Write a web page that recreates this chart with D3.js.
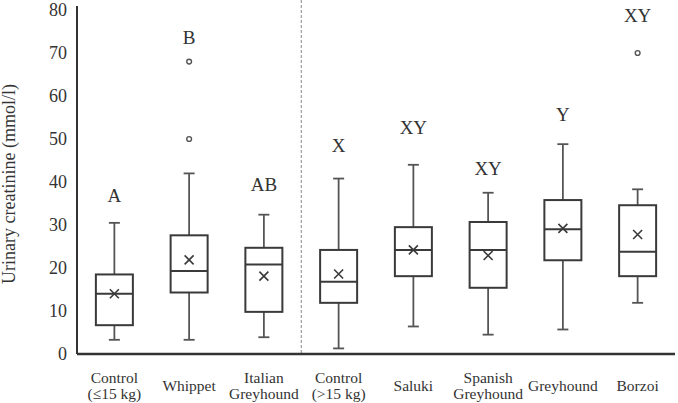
<!DOCTYPE html>
<html>
<head>
<meta charset="utf-8">
<script src="https://cdn.jsdelivr.net/npm/d3@7"></script>
<style>
  body { margin: 0; background: #fff; }
</style>
</head>
<body>
<div id="chart"></div>
<script>
// groups, left of the dashed line are small dogs, right are large dogs
const categories = ["c15", "whippet", "italian", "c15plus", "saluki", "spanish", "greyhound", "borzoi"];
const catLabels = [["Control", "(≤15 kg)"], ["Whippet"], ["Italian", "Greyhound"], ["Control", "(>15 kg)"],
    ["Saluki"], ["Spanish", "Greyhound"], ["Greyhound"], ["Borzoi"]];

// box statistics (mmol/l)
const whiskerLow = [3.3, 3.3, 3.9, 1.3, 6.4, 4.5, 5.7, 11.9];
const q1 = [6.7, 14.3, 9.8, 11.9, 18.1, 15.4, 21.8, 18.1];
const median = [14.0, 19.3, 20.8, 16.8, 24.2, 24.2, 29.0, 23.8];
const q3 = [18.5, 27.6, 24.7, 24.2, 29.5, 30.7, 35.8, 34.6];
const whiskerHigh = [30.5, 42.0, 32.4, 40.8, 44.0, 37.5, 48.8, 38.3];
const mean = [14.0, 21.9, 18.1, 18.6, 24.2, 22.9, 29.2, 27.8];
const outliers = [[], [50.0, 68.0], [], [], [], [], [], [70.0]];

// significance letters and the level where they sit
const letters = ["A", "B", "AB", "X", "XY", "XY", "Y", "XY"];
const letterPos = [35.3, 72.1, 38.0, 46.9, 51.1, 41.6, 54.3, 77.3];

const yTicks = [0, 10, 20, 30, 40, 50, 60, 70, 80];

const serif = '"Liberation Serif", "DejaVu Serif", serif';
const ink = '#333';

const width = 678, height = 403;
const margin = { top: 10, right: 3, bottom: 49, left: 77 };

const svg = d3.select('#chart').append('svg')
    .attr('width', width)
    .attr('height', height);

const x = d3.scaleBand()
    .domain(categories)
    .range([margin.left, width - margin.right])
    .paddingInner(0.5)
    .paddingOuter(0.25);

const y = d3.scaleLinear()
    .domain([0, 80])
    .range([height - margin.bottom, margin.top]);

const boxW = 37;
const capW = 11;
const cx = i => x(categories[i]) + x.bandwidth() / 2;

// dashed separator between the two weight groups
const sepX = x(categories[3]) - x.step() * x.paddingInner() / 2;
svg.append('line')
    .attr('x1', sepX).attr('x2', sepX)
    .attr('y1', 0).attr('y2', y(0))
    .attr('stroke', '#888')
    .attr('stroke-width', 1)
    .attr('stroke-dasharray', '3,2');

// y axis
const yAxis = d3.axisLeft(y).tickValues(yTicks).tickSize(0).tickPadding(10);
const gy = svg.append('g')
    .attr('transform', `translate(${margin.left},0)`)
    .call(yAxis)
    .attr('font-family', serif)
    .attr('font-size', 18);
gy.select('.domain').remove();
gy.selectAll('text')
    .style('font-family', serif)
    .style('font-size', '18px')
    .attr('fill', ink);
svg.append('line')
    .attr('x1', margin.left).attr('x2', margin.left)
    .attr('y1', 6).attr('y2', y(0))
    .attr('stroke', ink).attr('stroke-width', 2);

svg.append('text')
    .attr('transform', `translate(15,${(6 + y(0)) / 2 + 4}) rotate(-90)`)
    .attr('text-anchor', 'middle')
    .style('font-family', serif)
    .style('font-size', '18px')
    .attr('fill', ink)
    .text('Urinary creatinine (mmol/l)');

// boxes
const g = svg.append('g');
categories.forEach((c, i) => {
    const xc = cx(i);
    // whiskers
    g.append('line')
        .attr('x1', xc).attr('x2', xc)
        .attr('y1', y(whiskerHigh[i])).attr('y2', y(q3[i]))
        .attr('stroke', '#555').attr('stroke-width', 1.8);
    g.append('line')
        .attr('x1', xc).attr('x2', xc)
        .attr('y1', y(q1[i])).attr('y2', y(whiskerLow[i]))
        .attr('stroke', '#555').attr('stroke-width', 1.8);
    [whiskerHigh[i], whiskerLow[i]].forEach(v => {
        g.append('line')
            .attr('x1', xc - capW / 2).attr('x2', xc + capW / 2)
            .attr('y1', y(v)).attr('y2', y(v))
            .attr('stroke', '#555').attr('stroke-width', 1.8);
    });
    g.append('rect')
        .attr('x', xc - boxW / 2)
        .attr('y', y(q3[i]))
        .attr('width', boxW)
        .attr('height', y(q1[i]) - y(q3[i]))
        .attr('fill', 'none')
        .attr('stroke', '#3a3a3a')
        .attr('stroke-width', 2);
    g.append('line')
        .attr('x1', xc - boxW / 2).attr('x2', xc + boxW / 2)
        .attr('y1', y(median[i])).attr('y2', y(median[i]))
        .attr('stroke', '#3a3a3a').attr('stroke-width', 2);
    // mean as a cross
    const my = y(mean[i]), s = 4.5;
    g.append('path')
        .attr('d', `M${xc - s},${my - s}L${xc + s},${my + s}M${xc - s},${my + s}L${xc + s},${my - s}`)
        .attr('stroke', '#3a3a3a').attr('stroke-width', 1.6);
    outliers[i].forEach(v => {
        g.append('circle')
            .attr('cx', xc).attr('cy', y(v))
            .attr('r', 2.4)
            .attr('fill', 'none')
            .attr('stroke', '#555').attr('stroke-width', 1.4);
    });
    g.append('text')
        .attr('x', xc).attr('y', y(letterPos[i]))
        .attr('text-anchor', 'middle')
        .style('font-family', serif)
        .style('font-size', '19px')
        .attr('fill', ink)
        .text(letters[i]);
});

// x axis line
svg.append('line')
    .attr('x1', margin.left).attr('x2', width - margin.right)
    .attr('y1', y(0)).attr('y2', y(0))
    .attr('stroke', ink).attr('stroke-width', 2.5);

// category labels
categories.forEach((c, i) => {
    const lines = catLabels[i];
    const t = svg.append('text')
        .attr('text-anchor', 'middle')
        .style('font-family', serif)
        .style('font-size', '15.5px')
        .attr('fill', ink);
    lines.forEach((l, k) => {
        const base = lines.length === 1 ? 391 : 383 + k * 16;
        t.append('tspan').attr('x', cx(i)).attr('y', base).text(l);
    });
});
</script>
</body>
</html>
